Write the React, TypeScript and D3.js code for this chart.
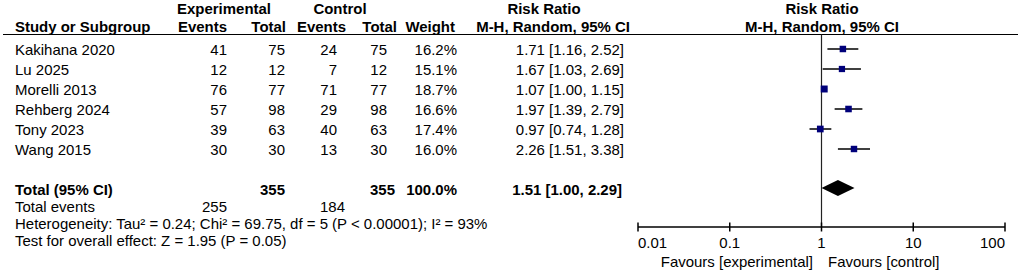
import React from "react";
import * as d3 from "d3";

const studies = ["Kakihana 2020", "Lu 2025", "Morelli 2013", "Rehberg 2024", "Tony 2023", "Wang 2015"];
const expEvents = [41, 12, 76, 57, 39, 30];
const expTotal = [75, 12, 77, 98, 63, 30];
const ctrlEvents = [24, 7, 71, 29, 40, 13];
const ctrlTotal = [75, 12, 77, 98, 63, 30];
const weights = [16.2, 15.1, 18.7, 16.6, 17.4, 16.0];
const rr = [1.71, 1.67, 1.07, 1.97, 0.97, 2.26];
const lo = [1.16, 1.03, 1.0, 1.39, 0.74, 1.51];
const hi = [2.52, 2.69, 1.15, 2.79, 1.28, 3.38];
const totalExp = 355;
const totalCtrl = 355;
const totalExpEvents = 255;
const totalCtrlEvents = 184;
const pooled = [1.51, 1.0, 2.29];
const ticks = [0.01, 0.1, 1, 10, 100];
const tickLabels = ["0.01", "0.1", "1", "10", "100"];
const hetText = "Heterogeneity: Tau² = 0.24; Chi² = 69.75, df = 5 (P < 0.00001); I² = 93%";
const testText = "Test for overall effect: Z = 1.95 (P = 0.05)";

const SX = 1.07;
const FONT = "'Liberation Sans', Arial, Helvetica, sans-serif";

const T = ({ x, y, anchor = "start", bold = false, children }: any) => (
  <text
    transform={`translate(${x},${y}) scale(${SX},1)`}
    textAnchor={anchor}
    fontWeight={bold ? "bold" : "normal"}
    fontFamily={FONT}
    fontSize={14}
    fill="#000"
  >
    {children}
  </text>
);

const fmt2 = d3.format(".2f");
const fmtW = (w: number) => `${d3.format(".1f")(w)}%`;
const ci = (a: number, b: number, c: number) => `${fmt2(a)} [${fmt2(b)}, ${fmt2(c)}]`;

export default function App() {
  const W = 1022;
  const H = 275;
  const x = d3.scaleLog().domain([0.01, 100]).range([638, 1005]);
  const yRow = d3.scalePoint<string>().domain(studies).range([55, 155]);
  const size = d3.scaleSqrt().domain([0, 20]).range([0, 7.2]);
  const axisY = 227;
  const topY = 34.5;
  const totalY = 195;
  const totEvY = 212;
  const hetY = 229;
  const testY = 246;

  const cols = { exE: 227, exT: 285, ctE: 337, ctT: 387, w: 457, rr: 624 };

  const dx = pooled.map((v) => x(v));
  const dy = totalY - 7;
  const diamond = `M${dx[1]},${dy} L${dx[0]},${dy - 8} L${dx[2]},${dy} L${dx[0]},${dy + 8} Z`;

  return (
    <svg width={W} height={H} style={{ position: "absolute", left: 0, top: 0, background: "#fff" }}>
      <rect width={W} height={H} fill="#fff" />
      {/* headers */}
      <T x={224} y={14} anchor="middle" bold>Experimental</T>
      <T x={340} y={14} anchor="middle" bold>Control</T>
      <T x={544} y={14} anchor="middle" bold>Risk Ratio</T>
      <T x={822} y={14} anchor="middle" bold>Risk Ratio</T>
      <T x={15} y={32} bold>Study or Subgroup</T>
      <T x={227} y={32} anchor="end" bold>Events</T>
      <T x={286} y={32} anchor="end" bold>Total</T>
      <T x={346} y={32} anchor="end" bold>Events</T>
      <T x={397} y={32} anchor="end" bold>Total</T>
      <T x={455} y={32} anchor="end" bold>Weight</T>
      <T x={630} y={32} anchor="end" bold>M-H, Random, 95% CI</T>
      <T x={822} y={32} anchor="middle" bold>M-H, Random, 95% CI</T>
      <line x1={3} x2={1018} y1={topY} y2={topY} stroke="#000" strokeWidth={1.2} />

      {/* study rows */}
      {studies.map((s, i) => {
        const y = yRow(s)!;
        return (
          <g key={s}>
            <T x={15} y={y}>{s}</T>
            <T x={cols.exE} y={y} anchor="end">{expEvents[i]}</T>
            <T x={cols.exT} y={y} anchor="end">{expTotal[i]}</T>
            <T x={cols.ctE} y={y} anchor="end">{ctrlEvents[i]}</T>
            <T x={cols.ctT} y={y} anchor="end">{ctrlTotal[i]}</T>
            <T x={cols.w} y={y} anchor="end">{fmtW(weights[i])}</T>
            <T x={cols.rr} y={y} anchor="end">{ci(rr[i], lo[i], hi[i])}</T>
          </g>
        );
      })}

      {/* total rows */}
      <T x={15} y={totalY} bold>Total (95% CI)</T>
      <T x={cols.exT} y={totalY} anchor="end" bold>{totalExp}</T>
      <T x={cols.ctT + 8} y={totalY} anchor="end" bold>{totalCtrl}</T>
      <T x={cols.w} y={totalY} anchor="end" bold>{`${d3.format(".1f")(d3.sum(weights))}%`}</T>
      <T x={cols.rr - 2} y={totalY} anchor="end" bold>{ci(pooled[0], pooled[1], pooled[2])}</T>
      <T x={15} y={totEvY}>Total events</T>
      <T x={cols.exE} y={totEvY} anchor="end">{totalExpEvents}</T>
      <T x={cols.ctE + 8} y={totEvY} anchor="end">{totalCtrlEvents}</T>
      <T x={15} y={hetY}>{hetText}</T>
      <T x={15} y={testY}>{testText}</T>

      {/* plot */}
      <line x1={x(1)} x2={x(1)} y1={topY} y2={axisY} stroke="#222" strokeWidth={1.2} />
      {studies.map((s, i) => {
        const y = yRow(s)! - 6;
        const sz = size(weights[i]);
        return (
          <g key={s}>
            <line x1={x(lo[i])} x2={x(hi[i])} y1={y} y2={y} stroke="#000" strokeWidth={1.5} />
            <rect x={x(rr[i]) - sz / 2} y={y - sz / 2} width={sz} height={sz} fill="#00007a" />
          </g>
        );
      })}
      <path d={diamond} fill="#000" />

      {/* axis */}
      <line x1={x(0.01)} x2={x(100)} y1={axisY} y2={axisY} stroke="#000" strokeWidth={1.5} />
      {ticks.map((t, i) => (
        <g key={t}>
          <line x1={x(t)} x2={x(t)} y1={axisY - 4.5} y2={axisY + 4.5} stroke="#000" strokeWidth={1.5} />
          <T x={x(t)} y={248} anchor={i === 0 ? "start" : i === ticks.length - 1 ? "end" : "middle"}>
            {tickLabels[i]}
          </T>
        </g>
      ))}
      <T x={813} y={267} anchor="end">Favours [experimental]</T>
      <T x={828} y={267}>Favours [control]</T>
    </svg>
  );
}
